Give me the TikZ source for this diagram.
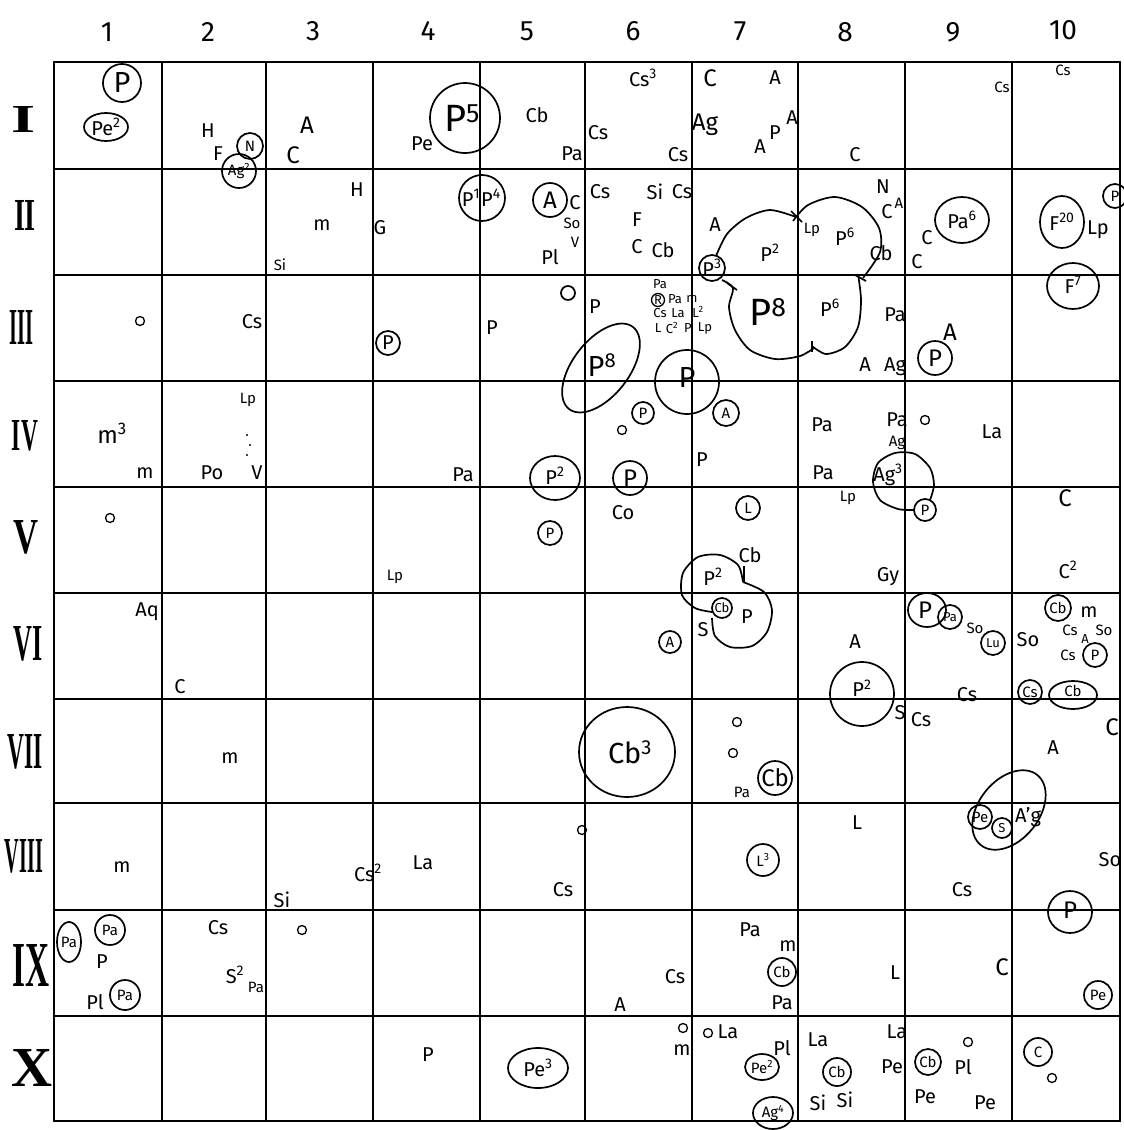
\documentclass[tikz,border=0pt]{standalone}
\usepackage{fontspec}
\usepackage{graphicx}
\setmainfont{Fira Sans}
\newfontfamily\romfont{Liberation Serif}
\newcount\nn
\newcommand\T[3]{\global\advance\nn by 1\relax\edef\tmpcmd{\noexpand\node[#1] (n\the\nn) at (#2)}\tmpcmd{#3};}
\tikzset{
  txs/.style={font=\fontsize{13}{13}\selectfont, inner sep=0pt},
  tsm/.style={font=\fontsize{15}{15}\selectfont, inner sep=0pt},
  tlb/.style={font=\fontsize{20}{20}\selectfont, inner sep=0pt},
  tmd/.style={font=\fontsize{24}{24}\selectfont, inner sep=0pt},
  tbg/.style={font=\fontsize{29}{29}\selectfont, inner sep=0pt},
  thg/.style={font=\fontsize{38}{38}\selectfont, inner sep=0pt},
  colnum/.style={font=\fontsize{28}{28}\selectfont, inner sep=0pt},
  rownum/.style={font=\romfont\bfseries, inner sep=0pt},
  gridline/.style={line width=2pt, line cap=round},
  ring/.style={line width=1.7pt},
  thinring/.style={line width=1.3pt},
}
\begin{document}
\begin{tikzpicture}[x=1pt,y=-1pt]
\useasboundingbox[fill=white] (0,0) rectangle (1124,1130);
% grid
\foreach \x in {54,162,266,373,480,585,692,798,905,1012,1120}
  \draw[gridline] (\x,62) -- (\x,1121);
\foreach \y in {62,169,275,381,487,593,699,803,910,1016,1121}
  \draw[gridline] (54,\y) -- (1120,\y);
% column numbers
\T{colnum}{107,32}{1}
\T{colnum}{208,32}{2}
\T{colnum}{313,31}{3}
\T{colnum}{428,31}{4}
\T{colnum}{527,31}{5}
\T{colnum}{633,31}{6}
\T{colnum}{740,31}{7}
\T{colnum}{845,32}{8}
\T{colnum}{953,32}{9}
\T{colnum}{1063,30}{10}
% row numerals
\node[rownum] (r1) at (24,119) {\resizebox{24pt}{26pt}{I}};
\node[rownum] (r2) at (25,215) {\resizebox{22pt}{30pt}{II}};
\node[rownum] (r3) at (22,327) {\resizebox{24pt}{34pt}{III}};
\node[rownum] (r4) at (25,436) {\resizebox{26pt}{30pt}{IV}};
\node[rownum] (r5) at (26,537) {\resizebox{25pt}{33pt}{V}};
\node[rownum] (r6) at (28,644) {\resizebox{29pt}{34pt}{VI}};
\node[rownum] (r7) at (25,752) {\resizebox{35pt}{34pt}{VII}};
\node[rownum] (r8) at (24,856) {\resizebox{38pt}{33pt}{VIII}};
\node[rownum] (r9) at (31,965) {\resizebox{37pt}{42pt}{IX}};
\node[rownum] (r10) at (32,1068) {\resizebox{41pt}{37pt}{X}};

% ---------- shapes ----------
\draw[ring] (122,83) circle[radius=19];
\draw[ring] (106,127) ellipse[x radius=22, y radius=14];
\draw[ring] (250,146) circle[radius=13];
\draw[ring] (239,171) circle[radius=17];
\draw[ring] (465,118) circle[radius=35];
\draw[ring] (482,198) circle[radius=23];
\draw[ring] (550,200) circle[radius=17];
\draw[ring] (712,268) circle[radius=13];
\draw[ring] (962,220) ellipse[x radius=27, y radius=23];
\draw[ring] (1062,222) ellipse[x radius=22, y radius=26];
\draw[ring] (1115,196) circle[radius=12];
\draw[ring] (1073,286) ellipse[x radius=26, y radius=23];
\draw[ring] (388,343) circle[radius=12];
\draw[ring] (568,293) circle[radius=7];
\draw[ring, rotate around={52:(601,368)}] (601,368) ellipse[x radius=52, y radius=28];
\draw[thinring] (658,300) circle[radius=6.5];
\draw[ring] (687,382) circle[radius=32];
\draw[ring] (935,358) circle[radius=17];
\draw[ring] (643,413) circle[radius=11];
\draw[ring] (555,478) ellipse[x radius=25, y radius=22];
\draw[ring] (630,478) circle[radius=17];
\draw[ring] (726,413) circle[radius=13];
\draw[ring] (550,533) circle[radius=12];
\draw[ring] (748,508) circle[radius=12];
\draw[ring] (925,510) circle[radius=11];
\draw[ring] (722,608) circle[radius=10];
\draw[ring] (670,642) circle[radius=11];
\draw[ring] (927,610) ellipse[x radius=19, y radius=17];
\draw[ring] (950,617) circle[radius=12];
\draw[ring] (993,643) circle[radius=12];
\draw[ring] (1058,608) circle[radius=13];
\draw[ring] (1095,655) circle[radius=12];
\draw[ring] (1030,692) circle[radius=12];
\draw[ring] (1073,695) ellipse[x radius=24, y radius=14];
\draw[ring] (862,694) circle[radius=32];
\draw[ring] (627,752) ellipse[x radius=48, y radius=45];
\draw[ring] (775,778) circle[radius=17];
\draw[ring, rotate around={51:(1009,810)}] (1009,810) ellipse[x radius=45, y radius=30];
\draw[ring] (980,817) circle[radius=12];
\draw[ring] (1002,828) circle[radius=10];
\draw[ring] (763,860) circle[radius=16];
\draw[ring] (1070,912) ellipse[x radius=22, y radius=21];
\draw[ring] (69,942) ellipse[x radius=12, y radius=20];
\draw[ring] (110,930) circle[radius=15];
\draw[ring] (125,995) circle[radius=15];
\draw[ring] (782,972) circle[radius=14];
\draw[ring] (1098,995) circle[radius=14];
\draw[ring] (538,1068) ellipse[x radius=30, y radius=20];
\draw[ring] (762,1067) ellipse[x radius=17, y radius=13];
\draw[ring] (773,1113) ellipse[x radius=20, y radius=16];
\draw[ring] (837,1072) circle[radius=14];
\draw[ring] (928,1062) circle[radius=13];
\draw[ring] (1038,1052) circle[radius=14];
% small o marks
\foreach \p in {(140,321),(110,518),(622,430),(925,420),(737,722),(733,753),(582,830),(302,930),(683,1028),(708,1033),(968,1042),(1052,1078)}
  \draw[thinring] \p circle[radius=4.5];
\foreach \p in {(247,435),(250,445),(247,455)}
  \fill \p circle[radius=1.2];
% big cloud P2 / P6 / P8
\draw[ring] plot[smooth] coordinates {(716,256) (727,234) (746,218) (770,210) (796,217)};
\draw[ring] plot[smooth] coordinates {(793,221) (808,205) (835,197) (862,207) (879,228) (880,252) (863,278)};
\draw[ring] plot[smooth] coordinates {(858,274) (861,300) (858,327) (845,347) (826,354) (812,346)};
\draw[ring] plot[smooth] coordinates {(814,348) (800,356) (775,359) (750,350) (735,330) (729,307) (733,288) (722,280)};
\draw[ring] (791,211) -- (802,222);
\draw[ring] (855,275) -- (866,281);
\draw[ring] (812,341) -- (812,352);
\draw[ring] (727,283) -- (737,290);
% cloud P2 / P (row V-VI)
\draw[ring] plot[smooth] coordinates {(743,582) (738,565) (720,555) (698,557) (683,573) (682,595) (695,608) (712,612)};
\draw[ring] plot[smooth] coordinates {(712,618) (715,636) (730,647) (752,646) (767,632) (772,610) (764,592) (743,582)};
\draw[ring] (744,566) -- (744,582);
% Ag3 loop
\draw[ring] plot[smooth] coordinates {(914,510) (898,509) (880,500) (873,482) (878,463) (895,453) (915,454) (930,468) (934,485) (930,500)};

% ---------- texts ----------
% row I
\T{tbg}{122,83}{P}
\T{tlb}{106,127}{Pe\textsuperscript{2}}
\T{tlb}{208,131}{H}
\T{tlb}{218,154}{F}
\T{tsm}{250,146}{N}
\T{tsm}{239,171}{Ag\textsuperscript{2}}
\T{tmd}{307,125}{A}
\T{tmd}{293,155}{C}
\T{tlb}{422,144}{Pe}
\T{thg}{462,118}{P\textsuperscript{5}}
\T{tlb}{537,115}{Cb}
\T{tlb}{572,154}{Pa}
\T{tlb}{643,78}{Cs\textsuperscript{3}}
\T{tlb}{598,133}{Cs}
\T{tlb}{678,155}{Cs}
\T{tmd}{710,78}{C}
\T{tmd}{705,125}{Ag}
\T{tlb}{775,78}{A}
\T{tlb}{792,118}{A}
\T{tlb}{775,133}{P}
\T{tlb}{760,147}{A}
\T{tlb}{855,155}{C}
\T{tsm}{1002,87}{Cs}
\T{tsm}{1063,70}{Cs}
% row II
\T{tlb}{357,190}{H}
\T{tlb}{322,225}{m}
\T{tsm}{280,265}{Si}
\T{tlb}{380,228}{G}
\T{tlb}{471,198}{P\textsuperscript{1}}
\T{tlb}{491,198}{P\textsuperscript{4}}
\T{tmd}{550,200}{A}
\T{tlb}{575,203}{C}
\T{tsm}{572,223}{So}
\T{tsm}{575,242}{V}
\T{tlb}{550,257}{Pl}
\T{tlb}{600,192}{Cs}
\T{tlb}{655,192}{Si}
\T{tlb}{682,192}{Cs}
\T{tlb}{637,220}{F}
\T{tlb}{637,247}{C}
\T{tlb}{663,250}{Cb}
\T{tlb}{715,225}{A}
\T{tlb}{712,268}{P\textsuperscript{3}}
\T{tlb}{770,253}{P\textsuperscript{2}}
\T{tsm}{812,230}{Lp}
\T{tlb}{845,237}{P\textsuperscript{6}}
\T{tlb}{881,253}{Cb}
\T{tlb}{883,187}{N}
\T{tlb}{887,212}{C}
\T{tsm}{899,203}{A}
\T{tlb}{927,238}{C}
\T{tlb}{917,262}{C}
\T{tlb}{962,220}{Pa\textsuperscript{6}}
\T{tlb}{1062,222}{F\textsuperscript{20}}
\T{tlb}{1098,230}{Lp}
\T{tsm}{1115,196}{P}
% row III
\T{tlb}{1073,285}{F\textsuperscript{7}}
\T{tlb}{252,322}{Cs}
\T{tlb}{388,343}{P}
\T{tlb}{492,328}{P}
\T{tlb}{595,307}{P}
\T{tbg}{602,365}{P\textsuperscript{8}}
\T{txs}{660,284}{Pa}
\T{txs}{658,300}{R}
\T{txs}{675,299}{Pa}
\T{txs}{692,299}{m}
\T{txs}{660,313}{Cs}
\T{txs}{678,313}{La}
\T{txs}{698,312}{L\textsuperscript{2}}
\T{txs}{658,328}{L}
\T{txs}{672,328}{C\textsuperscript{2}}
\T{txs}{688,328}{P}
\T{txs}{705,328}{Lp}
\T{tbg}{687,378}{P}
\T{thg}{768,312}{P\textsuperscript{8}}
\T{tlb}{830,308}{P\textsuperscript{6}}
\T{tlb}{895,315}{Pa}
\T{tlb}{865,365}{A}
\T{tlb}{895,367}{Ag}
\T{tmd}{950,332}{A}
\T{tmd}{935,358}{P}
% row IV
\T{tmd}{112,433}{m\textsuperscript{3}}
\T{tlb}{145,473}{m}
\T{tsm}{248,400}{Lp}
\T{tlb}{212,473}{Po}
\T{tlb}{257,473}{V}
\T{tlb}{463,475}{Pa}
\T{tlb}{555,476}{P\textsuperscript{2}}
\T{tsm}{643,413}{P}
\T{tmd}{630,478}{P}
\T{tsm}{726,413}{A}
\T{tlb}{702,460}{P}
\T{tlb}{822,425}{Pa}
\T{tlb}{897,420}{Pa}
\T{tsm}{897,443}{Ag}
\T{tlb}{823,473}{Pa}
\T{tsm}{848,498}{Lp}
\T{tlb}{888,475}{Ag\textsuperscript{3}}
\T{tsm}{925,510}{P}
\T{tlb}{992,432}{La}
\T{tmd}{1065,498}{C}
% row V
\T{tsm}{395,577}{Lp}
\T{tsm}{550,533}{P}
\T{tlb}{623,513}{Co}
\T{tsm}{748,508}{L}
\T{tlb}{713,577}{P\textsuperscript{2}}
\T{tlb}{750,555}{Cb}
\T{txs}{722,608}{Cb}
\T{tlb}{747,617}{P}
\T{tlb}{703,630}{S}
\T{tlb}{888,577}{Gy}
\T{tlb}{1068,570}{C\textsuperscript{2}}
% row VI
\T{tlb}{147,612}{Aq}
\T{tlb}{180,687}{C}
\T{tsm}{670,642}{A}
\T{tlb}{855,642}{A}
\T{tlb}{862,688}{P\textsuperscript{2}}
\T{tlb}{900,713}{S}
\T{tlb}{921,720}{Cs}
\T{tmd}{925,610}{P}
\T{txs}{950,617}{Pa}
\T{tsm}{975,628}{So}
\T{txs}{993,643}{Lu}
\T{tlb}{967,695}{Cs}
\T{tlb}{1028,640}{So}
\T{tsm}{1058,608}{Cb}
\T{tlb}{1089,612}{m}
\T{tsm}{1070,630}{Cs}
\T{txs}{1085,639}{A}
\T{tsm}{1104,630}{So}
\T{tsm}{1068,655}{Cs}
\T{tsm}{1095,655}{P}
\T{tsm}{1030,692}{Cs}
\T{tsm}{1073,691}{Cb}
% row VII
\T{tlb}{230,758}{m}
\T{tbg}{630,752}{Cb\textsuperscript{3}}
\T{tsm}{742,792}{Pa}
\T{tmd}{775,778}{Cb}
\T{tlb}{1053,748}{A}
\T{tmd}{1112,727}{C}
\T{tsm}{980,817}{Pe}
\T{txs}{1002,828}{S}
\T{tlb}{1028,817}{A'g}
% row VIII
\T{tlb}{122,867}{m}
\T{tlb}{282,900}{Si}
\T{tlb}{368,873}{Cs\textsuperscript{2}}
\T{tlb}{423,863}{La}
\T{tlb}{563,890}{Cs}
\T{tsm}{763,860}{L\textsuperscript{3}}
\T{tlb}{857,823}{L}
\T{tlb}{962,890}{Cs}
\T{tlb}{1110,860}{So}
\T{tmd}{1070,910}{P}
% row IX
\T{tsm}{69,942}{Pa}
\T{tsm}{110,930}{Pa}
\T{tlb}{102,962}{P}
\T{tlb}{95,1002}{Pl}
\T{tsm}{125,995}{Pa}
\T{tlb}{218,928}{Cs}
\T{tlb}{235,975}{S\textsuperscript{2}}
\T{tsm}{256,987}{Pa}
\T{tlb}{675,977}{Cs}
\T{tlb}{620,1005}{A}
\T{tlb}{750,930}{Pa}
\T{tlb}{788,946}{m}
\T{tsm}{782,972}{Cb}
\T{tlb}{782,1003}{Pa}
\T{tlb}{895,973}{L}
\T{tmd}{1002,967}{C}
\T{tsm}{1098,995}{Pe}
% row X
\T{tlb}{428,1055}{P}
\T{tlb}{538,1068}{Pe\textsuperscript{3}}
\T{tlb}{682,1050}{m}
\T{tlb}{728,1032}{La}
\T{tlb}{782,1048}{Pl}
\T{tsm}{762,1067}{Pe\textsuperscript{2}}
\T{tsm}{773,1113}{Ag\textsuperscript{4}}
\T{tlb}{818,1040}{La}
\T{tlb}{897,1032}{La}
\T{tsm}{837,1072}{Cb}
\T{tlb}{818,1103}{Si}
\T{tlb}{845,1100}{Si}
\T{tlb}{892,1067}{Pe}
\T{tsm}{928,1062}{Cb}
\T{tlb}{963,1067}{Pl}
\T{tlb}{925,1097}{Pe}
\T{tlb}{985,1103}{Pe}
\T{tsm}{1038,1052}{C}
\end{tikzpicture}
\end{document}
